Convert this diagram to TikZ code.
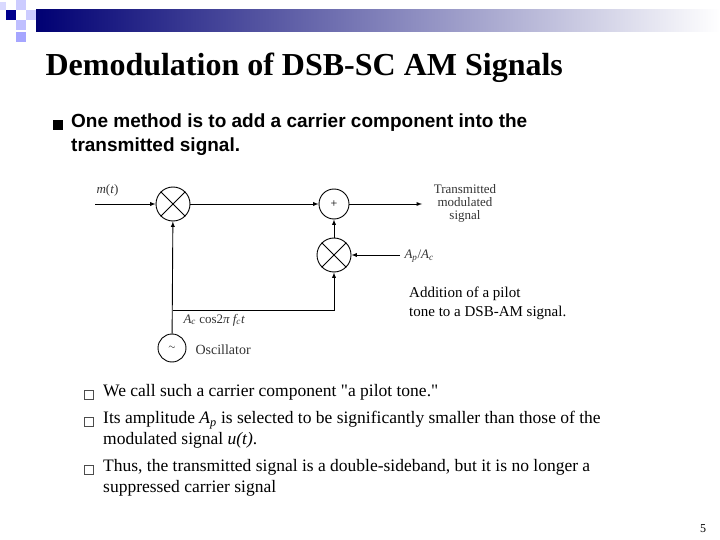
\documentclass[tikz,border=0pt]{standalone}
\usepackage{fontspec}
\setmainfont{Liberation Serif}
\newfontfamily\arialf{Liberation Sans}
\newfontfamily\plainserif{Liberation Serif}
\begin{document}
\begin{tikzpicture}[x=1pt,y=-1pt,>=latex,
  blk/.style={draw,circle,line width=0.9pt,inner sep=0pt},
  ln/.style={line width=0.9pt},
  dtxt/.style={font=\fontsize{13}{13}\selectfont,text=black!80}]
\useasboundingbox (0,0) rectangle (720,540);
% header decoration
\shade[left color=blue!45!black,right color=white] (36,10) rectangle (720,32);
\fill[blue!55!black] (6,10) rectangle (16,20);
\fill[blue!20] (16,0) rectangle (26,10);
\fill[blue!25] (16,20) rectangle (26,30);
\fill[blue!20] (26,10) rectangle (36,20);
\fill[blue!35] (16,32) rectangle (26,42);
\fill[blue!15] (0,2) rectangle (6,10);
% title
\node[anchor=west,font=\bfseries\fontsize{32}{36}\selectfont] (title) at (42,68) {Demodulation of DSB-SC AM Signals};
\fill (53,120) rectangle (63,130);
\node[anchor=north west,align=left,font=\arialf\bfseries\fontsize{19}{24}\selectfont,inner sep=0pt] (b1) at (71,114) {One method is to add a carrier component into the\\transmitted signal.};
% diagram
\node[blk,minimum size=34pt] (m1) at (173,204) {};
\draw[ln] (m1.north east)--(m1.south west) (m1.north west)--(m1.south east);
\node[blk,minimum size=30pt,font=\large] (ad) at (334,204) {+};
\node[blk,minimum size=34pt] (m2) at (334,255) {};
\draw[ln] (m2.north east)--(m2.south west) (m2.north west)--(m2.south east);
\node[blk,minimum size=28pt,font=\small] (osc) at (172,348) {$\sim$};
\coordinate (in) at (95,204);
\coordinate (out) at (422,204);
\coordinate (ap) at (400,255);
\coordinate (j) at (173,310);
\coordinate (jr) at (334,310);
\draw[ln,->] (in)--(m1);
\draw[ln,->] (m1)--(ad);
\draw[ln,->] (ad)--(out);
\draw[ln,->] (m2)--(ad);
\draw[ln,->] (ap)--(m2);
\draw[ln,->] (osc)--(m1);
\draw[ln,->] (j)--(jr)--(m2);
\node[dtxt,anchor=south west] (mt) at (93,200) {\textit{m}(\textit{t})};
\node[dtxt,align=center] (tx) at (465,203) {Transmitted\\modulated\\signal};
\node[dtxt,anchor=west] (apl) at (401,256) {\textit{A\textsubscript{p}}/\textit{A\textsubscript{c}}};
\node[dtxt,anchor=west] (acl) at (180,320) {\textit{A\textsubscript{c}} cos2\textit{π f\textsubscript{c}t}};
\node[dtxt,anchor=west,font=\fontsize{14}{14}\selectfont] (ol) at (192,350) {Oscillator};
\node[anchor=north west,align=left,font=\fontsize{15}{19}\selectfont,inner sep=0pt] (cap) at (409,287) {Addition of a pilot\\tone to a DSB-AM signal.};
% sub bullets
\foreach \yy in {395,422,470}
  \draw[line width=0.6pt,black!70] (84,\yy-5) rectangle (93,\yy+4);
\node[anchor=north west,align=left,font=\fontsize{17.5}{24}\selectfont,inner sep=0pt] (s1) at (103,384) {We call such a carrier component {\plainserif"}a pilot tone.{\plainserif"}};
\node[anchor=north west,align=left,font=\fontsize{17.5}{21}\selectfont,inner sep=0pt] (s2) at (103,411) {Its amplitude \textit{A\textsubscript{p}} is selected to be significantly smaller than those of the\\modulated signal \textit{u(t)}.};
\node[anchor=north west,align=left,font=\fontsize{17.5}{21}\selectfont,inner sep=0pt] (s3) at (103,459) {Thus, the transmitted signal is a double-sideband, but it is no longer a\\suppressed carrier signal};
\node[font=\fontsize{12}{14}\selectfont] (pg) at (703,529) {5};
\end{tikzpicture}
\end{document}
